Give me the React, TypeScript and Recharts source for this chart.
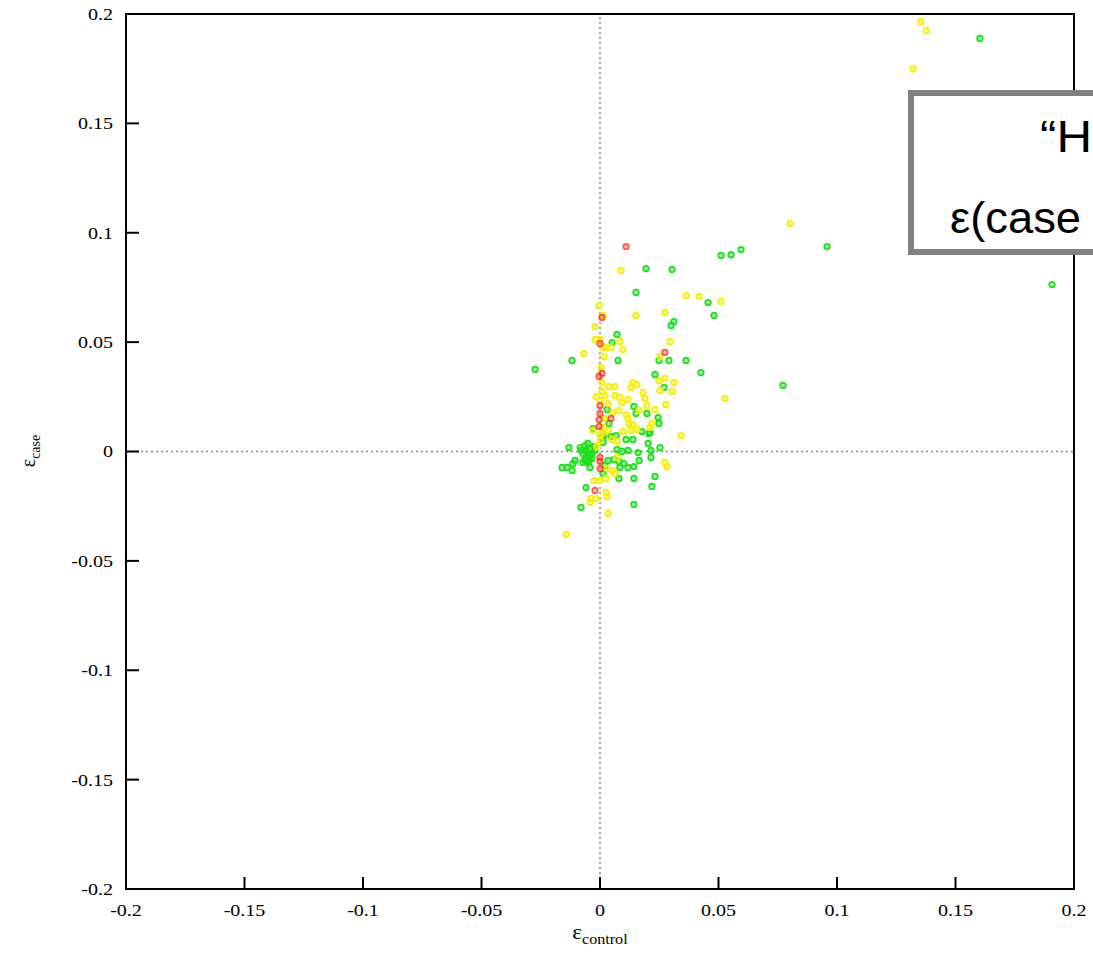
import React from "react";
import { ReferenceArea, ReferenceLine, Scatter, ScatterChart, XAxis, YAxis } from "recharts";

const GREEN_COLOR = "#1ee01e";
const YELLOW_COLOR = "#f4f000";
const RED_COLOR = "#ff2a1a";
const SERIF = '"Times New Roman", "Liberation Serif", "DejaVu Serif", serif';

const TICKS = [-0.2, -0.15, -0.1, -0.05, 0, 0.05, 0.1, 0.15, 0.2];

// [eps_control, eps_case]
const greenPoints = [
  [0.1603, 0.1888], [0.1907, 0.0763], [0.0958, 0.0937], [0.0511, 0.0896], [0.0553, 0.09], [0.0595, 0.0923],
  [0.0304, 0.0832], [0.0194, 0.0836], [0.0456, 0.0681], [0.0152, 0.0727], [0.0312, 0.0594], [0.03, 0.0576],
  [0.0481, 0.0622], [0.0291, 0.0416], [0.0363, 0.0416], [0.0426, 0.0361], [0.027, 0.0293], [0.0772, 0.0302],
  [0.0072, 0.0535], [0.0051, 0.0498], [-0.0118, 0.0416], [-0.0274, 0.0375], [0.0076, 0.0416], [0.0249, 0.0416],
  [0.0232, 0.0352], [0.003, 0.0192], [0.0143, 0.0206], [0.0152, 0.0174], [0.0198, 0.0174], [0.0245, 0.0155],
  [0.0249, 0.0128], [0.0211, 0.0087], [0.0177, 0.0091], [0.0139, 0.0055], [0.011, 0.0055], [0.0038, 0.0128],
  [-0.003, 0.0105], [0.0046, 0.0069], [0.0068, 0.0073], [0.0013, 0.0069], [0.0013, 0.0041], [0.0203, 0.0037],
  [0.0253, 0.0018], [0.0215, 0.0005], [0.0093, 0], [0.0118, 0.0005], [0.016, -0.0005], [0.0072, 0.0009],
  [0.0008, 0.0064], [0.0207, 0.0082],
  [-0.0131, 0.0018], [-0.0084, 0.0018], [-0.0063, 0.0027], [-0.0051, 0.0037], [-0.0042, 0.0014], [-0.0055, -0.0005],
  [-0.0072, -0.0009], [-0.0034, -0.0009], [-0.0063, -0.0032], [-0.0072, -0.005], [-0.0105, -0.0041], [-0.0114, -0.0055],
  [-0.0051, -0.005], [-0.0034, -0.0032], [-0.0021, 0.0005], [-0.008, 0.0005], [-0.0063, -0.0041], [-0.0042, -0.0018],
  [-0.0059, 0.0009], [-0.0025, 0.0023], [-0.0046, -0.0041],
  [-0.016, -0.0073], [-0.0139, -0.0073], [-0.0118, -0.0087], [-0.0042, -0.0073], [0.0034, -0.0041], [0.0059, -0.0037],
  [0.008, -0.0046], [0.0101, -0.0055], [0.0084, -0.0073], [0.0021, -0.0064], [0.0013, -0.0101], [0.008, -0.0123],
  [0.0118, -0.0073], [0.0143, -0.0069], [0.0215, -0.0027], [0.0165, -0.0041], [0.0232, -0.0114], [0.0143, -0.0123],
  [0.0219, -0.016], [0.0143, -0.0242], [-0.0059, -0.0165], [-0.008, -0.0256],
];

const yellowPoints = [
  [0.1354, 0.1965], [0.1376, 0.1924], [0.1321, 0.175], [0.0802, 0.1042], [0.0089, 0.0827], [0.0363, 0.0713],
  [0.0418, 0.0709], [0.0511, 0.0686], [0.0274, 0.0635], [-0.0004, 0.0667], [0.0013, 0.0622], [0.0152, 0.0622],
  [-0.0021, 0.0571], [-0.0021, 0.0512], [0, 0.0512], [0.0084, 0.0503], [0.0013, 0.0475], [0.0025, 0.0475],
  [0.0046, 0.0475], [0.0097, 0.0466], [0.0295, 0.0503], [0.0253, 0.0434], [-0.0068, 0.0448], [0.0017, 0.0434],
  [0.0004, 0.0384], [0.0274, 0.0334], [0.0312, 0.0315], [0.0304, 0.0274], [0.0527, 0.0242], [0.0008, 0.0315],
  [0.0038, 0.0297], [0.0063, 0.0297], [0.0131, 0.0293], [0.0139, 0.0315], [0.0156, 0.0306], [0.0253, 0.0279],
  [-0.0017, 0.0251], [0.0008, 0.0274], [0, 0.0233], [0.0063, 0.0256], [0.0084, 0.0247], [0.0093, 0.0224],
  [0.0118, 0.0238], [0.0181, 0.027], [0.019, 0.0242], [0.0198, 0.021], [0.0278, 0.0215], [0.0034, 0.0219],
  [0.0055, 0.0178], [0.008, 0.0187], [0.0165, 0.0187], [0.011, 0.0169], [0.0118, 0.0151], [0.0232, 0.0192],
  [0.0219, 0.0128], [0.0211, 0.011], [0.0342, 0.0073], [0.0139, 0.0123], [0.0131, 0.0096], [0.0156, 0.0101],
  [0.0097, 0.0091], [0.0122, 0.0128], [0.0034, 0.0096], [-0.003, 0.0096], [0.0072, 0.0046], [0.0051, 0.0055],
  [0, 0.005], [0.0008, 0.0082], [-0.0013, 0.0023], [0.0072, -0.0027], [0.0051, -0.0087], [0.003, -0.0078],
  [0.0063, -0.0101], [0.0025, -0.0123], [-0.0025, -0.0133], [0, -0.0133], [0.0274, -0.005], [0.0283, -0.0069],
  [0.0025, -0.0187], [0.003, -0.0206], [-0.0038, -0.0215], [-0.0042, -0.0233], [-0.0017, -0.0215], [0.0034, -0.0283],
  [-0.0143, -0.0379], [0.0249, 0.0324], [0.0013, 0.011], [0, 0.0073], [0.0017, 0.0151], [0.0021, 0.0256],
];

const redPoints = [
  [0.011, 0.0937], [0.0008, 0.0613], [0, 0.0494], [0.0274, 0.0453], [0.0008, 0.0357], [-0.0004, 0.0343],
  [0, 0.021], [0, 0.0174], [-0.0004, 0.0146], [-0.0004, 0.0114], [0.0046, 0.0151], [0, -0.0027],
  [0, -0.0046], [0, -0.0078], [-0.0021, -0.0178],
];

const toRows = (pts: number[][]) => pts.map(([x, y]) => ({ x, y }));

function ringShape(color: string, opacity = 1) {
  return (props: any) => (
    <circle
      cx={props.cx}
      cy={props.cy}
      r={2.8}
      stroke={color}
      strokeWidth={1.7}
      strokeOpacity={opacity}
      fill={color}
      fillOpacity={0.45 * opacity}
    />
  );
}

function XTick(props: any) {
  const { x, y, payload } = props;
  return (
    <g transform={`translate(${x},${y}) scale(1.18,1)`}>
      <text textAnchor="middle" dy="0.35em" fontSize={17} fill="#000" fontFamily={SERIF}>
        {payload.value}
      </text>
    </g>
  );
}

function YTick(props: any) {
  const { x, y, payload } = props;
  return (
    <g transform={`translate(${x},${y}) scale(1.18,1)`}>
      <text textAnchor="end" dy="0.35em" fontSize={17} fill="#000" fontFamily={SERIF}>
        {payload.value}
      </text>
    </g>
  );
}

export default function App() {
  return (
    <div
      style={{
        position: "absolute",
        left: 0,
        top: 0,
        width: 1093,
        height: 956,
        overflow: "hidden",
        background: "#fff",
      }}
    >
      <ScatterChart width={1093} height={956} margin={{ top: 14, right: 19, bottom: 0, left: 0 }}>
        <XAxis
          type="number"
          dataKey="x"
          domain={[-0.2, 0.2]}
          ticks={TICKS}
          height={67}
          tick={<XTick />}
          tickSize={-12}
          tickMargin={33}
          tickLine={{ stroke: "#000", strokeWidth: 2 }}
          axisLine={{ stroke: "#000", strokeWidth: 2 }}
          allowDataOverflow
        />
        <YAxis
          type="number"
          dataKey="y"
          domain={[-0.2, 0.2]}
          ticks={TICKS}
          width={126}
          tick={<YTick />}
          tickSize={-13}
          tickMargin={26}
          tickLine={{ stroke: "#000", strokeWidth: 2 }}
          axisLine={{ stroke: "#000", strokeWidth: 2 }}
          allowDataOverflow
        />
        <ReferenceLine x={0} stroke="#8a8a8a" strokeWidth={1.5} strokeDasharray="2 3" />
        <ReferenceLine y={0} stroke="#8a8a8a" strokeWidth={1.5} strokeDasharray="2 3" />
        <ReferenceArea x1={-0.2} x2={0.2} y1={-0.2} y2={0.2} fill="none" stroke="#000" strokeWidth={2} />
        <Scatter data={toRows(greenPoints)} shape={ringShape(GREEN_COLOR)} isAnimationActive={false} />
        <Scatter data={toRows(yellowPoints)} shape={ringShape(YELLOW_COLOR)} isAnimationActive={false} />
        <Scatter data={toRows(redPoints)} shape={ringShape(RED_COLOR, 0.75)} isAnimationActive={false} />
      </ScatterChart>

      {/* axis titles */}
      <div
        style={{
          position: "absolute",
          left: 600,
          top: 922,
          transform: "translateX(-50%) scaleX(1.15)",
          fontFamily: SERIF,
          fontSize: 20,
          whiteSpace: "nowrap",
          lineHeight: 1,
        }}
      >
        ε<sub style={{ fontSize: 14 }}>control</sub>
      </div>
      <div
        style={{
          position: "absolute",
          left: 30,
          top: 451,
          transform: "translate(-50%, -50%) rotate(-90deg)",
          fontFamily: SERIF,
          fontSize: 20,
          whiteSpace: "nowrap",
          lineHeight: 1,
        }}
      >
        ε<sub style={{ fontSize: 14 }}>case</sub>
      </div>

      {/* slide callout box, partly outside the frame */}
      <div
        style={{
          position: "absolute",
          left: 908,
          top: 90,
          width: 400,
          height: 165,
          boxSizing: "border-box",
          border: "6px solid #808080",
          background: "#fff",
          fontFamily: '"Liberation Sans", Arial, sans-serif',
          fontSize: 44,
          lineHeight: 1,
          color: "#000",
        }}
      >
        <span style={{ position: "absolute", left: 126, top: 19, transform: "scaleX(1.12)", transformOrigin: "left" }}>
          “H
        </span>
        <span style={{ position: "absolute", left: 36, top: 100, transform: "scaleX(1.03)", transformOrigin: "left" }}>
          ε(case
        </span>
      </div>
    </div>
  );
}
